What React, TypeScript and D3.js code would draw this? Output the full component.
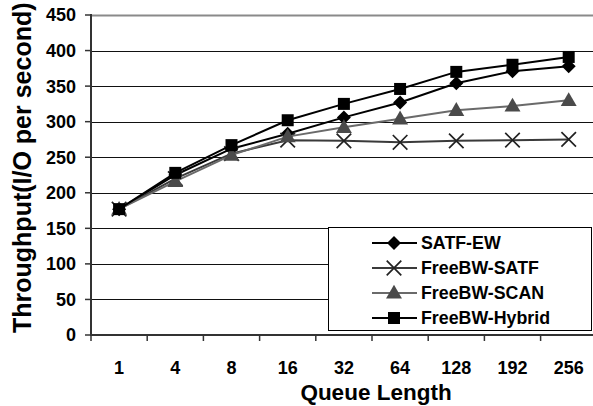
import React from "react";
import * as d3 from "d3";

const queueLengths = ["1", "4", "8", "16", "32", "64", "128", "192", "256"];
const satfEW = [177, 225, 262, 283, 306, 327, 354, 371, 378];
const freeSATF = [177, 220, 255, 274, 273, 271, 273, 274, 275];
const freeSCAN = [177, 216, 253, 279, 292, 304, 316, 322, 330];
const freeHybrid = [177, 228, 267, 302, 325, 346, 370, 380, 391];
const yTicks = [0, 50, 100, 150, 200, 250, 300, 350, 400, 450];

const seriesList = [
  { name: "SATF-EW", values: satfEW, line: "#000", mark: "#000", kind: "diamond" },
  { name: "FreeBW-SATF", values: freeSATF, line: "#3a3a3a", mark: "#222", kind: "x" },
  { name: "FreeBW-SCAN", values: freeSCAN, line: "#6a6a6a", mark: "#4a4a4a", kind: "triangle" },
  { name: "FreeBW-Hybrid", values: freeHybrid, line: "#000", mark: "#000", kind: "square" },
];

const font = "'Liberation Sans', Arial, sans-serif";

function Marker({ kind, x, y, color }: { kind: string; x: number; y: number; color: string }) {
  if (kind === "diamond") {
    const r = 7;
    return <path d={`M${x},${y - r}L${x + r},${y}L${x},${y + r}L${x - r},${y}Z`} fill={color} />;
  }
  if (kind === "square") {
    return <path transform={`translate(${x},${y})`} d={d3.symbol(d3.symbolSquare, 144)()!} fill={color} />;
  }
  if (kind === "triangle") {
    return <path transform={`translate(${x},${y + 1})`} d={d3.symbol(d3.symbolTriangle, 110)()!} fill={color} />;
  }
  return (
    <path
      transform={`translate(${x},${y})`}
      d={d3.symbol(d3.symbolX, 140)()!}
      fill="none"
      stroke={color}
      strokeWidth={1.7}
    />
  );
}

export default function App() {
  const width = 593;
  const height = 406;
  const left = 91;
  const bottom = 335;

  const x = d3.scaleBand().domain(queueLengths).range([left, left + 9 * 56.2]).padding(0);
  const y = d3.scaleLinear().domain([0, 450]).range([bottom, 15]);
  const cx = (c: string) => x(c)! + x.bandwidth() / 2;

  const line = d3
    .line<number>()
    .x((_, i) => cx(queueLengths[i]))
    .y((d) => y(d));

  const legend = { x: 328, y: 227, w: 263, h: 103 };

  return (
    <svg
      width={width}
      height={height}
      style={{ position: "absolute", left: 0, top: 0, background: "#fff" }}
      fontFamily={font}
      fontWeight="bold"
    >
      {/* grid */}
      {yTicks.filter((t) => t > 0).map((t) => {
        const yy = Math.round(y(t)) + 0.5;
        const covered = yy > legend.y && yy < legend.y + legend.h;
        return (
          <line
            key={t}
            x1={left}
            x2={covered ? legend.x : width}
            y1={yy}
            y2={yy}
            stroke={t === 450 ? "#8a8a8a" : "#111"}
            strokeWidth={t === 450 ? 2 : 1}
          />
        );
      })}

      {/* axes */}
      <line x1={left} x2={left} y1={y(450) - 1} y2={bottom + 1} stroke="#333" strokeWidth={2} />
      <line x1={left} x2={width} y1={bottom} y2={bottom} stroke="#333" strokeWidth={2} />
      {yTicks.map((t) => (
        <g key={t}>
          <line x1={left - 6} x2={left} y1={y(t)} y2={y(t)} stroke="#333" strokeWidth={1.5} />
          <text x={76} y={y(t)} dy="0.36em" textAnchor="end" fontSize={18}>
            {t}
          </text>
        </g>
      ))}
      {queueLengths.map((c) => (
        <g key={c}>
          <line x1={x(c)!} x2={x(c)!} y1={bottom} y2={bottom + 6} stroke="#333" strokeWidth={1.5} />
          <text x={cx(c)} y={373.5} textAnchor="middle" fontSize={18}>
            {c}
          </text>
        </g>
      ))}

      <text x={376} y={400} textAnchor="middle" fontSize={22.5}>
        Queue Length
      </text>
      <text transform="translate(31,333) rotate(-90)" textAnchor="start" fontSize={25}>
        Throughput(I/O per second)
      </text>

      {/* series */}
      {seriesList.map((s) => (
        <g key={s.name}>
          <path d={line(s.values)!} fill="none" stroke={s.line} strokeWidth={2} />
          {s.values.map((v, i) => (
            <Marker key={i} kind={s.kind} x={cx(queueLengths[i])} y={y(v)} color={s.mark} />
          ))}
        </g>
      ))}

      {/* legend */}
      <rect x={legend.x + 0.5} y={legend.y + 0.5} width={legend.w} height={legend.h} fill="#fff" stroke="#000" />
      {seriesList.map((s, i) => {
        const ly = legend.y + 16 + i * 25;
        return (
          <g key={s.name}>
            <line x1={372} x2={417} y1={ly} y2={ly} stroke={s.line} strokeWidth={2} />
            <Marker kind={s.kind} x={394} y={ly} color={s.mark} />
            <text x={421} y={ly} dy="0.36em" fontSize={17.8}>
              {s.name}
            </text>
          </g>
        );
      })}
    </svg>
  );
}
